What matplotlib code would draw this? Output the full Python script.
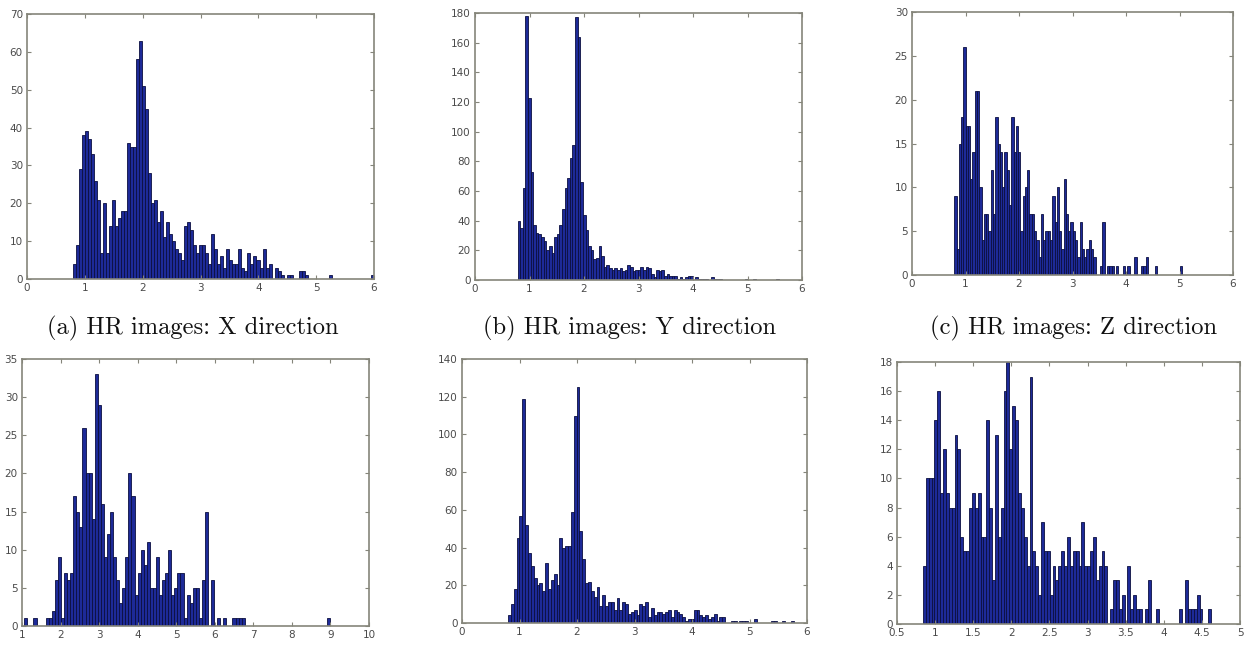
import numpy as np
import matplotlib
matplotlib.use("Agg")
import matplotlib.pyplot as plt
from matplotlib.ticker import MultipleLocator, FuncFormatter

# ---- data: histogram counts (100 bins each) and bin ranges ----
range_a = (0.79, 6.0)
counts_a = [4,9,29,38,39,37,33,26,21,7, 20,7,14,21,14,16,18,18,36,35,
            35,58,63,51,45,28,20,21,15,18, 11,15,12,10,8,7,5,14,15,13,
            9,7,9,9,7,4,12,8,4,6, 3,8,5,4,4,8,3,2,7,4,
            6,5,3,8,3,4,0,3,2,1, 0,1,1,0,0,2,2,1,0,0,
            0,0,0,0,0,1,0,0,0,0, 0,0,0,0,0,0,0,0,0,1]

range_b = (0.78, 5.58)
counts_b = [40,35,62,178,123,73,37,32,31,29, 26,20,23,18,29,31,37,48,62,69,
            82,91,177,164,66,44,34,23,20,14, 15,23,16,9,10,8,7,8,7,8,
            6,7,10,9,6,7,7,9,7,9, 8,4,2,7,6,7,3,4,3,3,
            3,1,2,1,2,3,3,0,2,1, 1,1,1,0,2,1,1,1,0,0,
            0,0,0,0,0,0,0,1,0,0, 1,0,0,0,0,0,0,0,0,1]

range_c = (0.79, 5.05)
counts_c = [9,3,15,18,26,17,17,11,14,21, 21,10,4,7,7,5,12,7,18,15,
            14,10,14,12,8,18,14,17,14,5, 9,10,12,7,7,5,4,2,7,4,
            5,5,4,9,6,10,5,3,11,7, 5,6,5,4,2,6,3,2,3,4,
            3,2,0,0,1,6,0,1,1,1, 0,1,0,0,1,0,1,0,0,2,
            0,0,1,1,2,0,0,0,1,0, 0,0,0,0,0,0,0,0,0,1]

range_d = (1.06, 9.0)
counts_d = [1,0,0,1,0,0,0,1,1,2, 6,9,1,7,6,7,17,15,13,26,
            20,20,14,33,29,16,9,12,15,9, 6,3,5,9,20,17,4,7,10,8,
            11,5,5,9,4,6,7,10,4,5, 7,7,1,4,3,5,5,1,6,15,
            0,6,0,1,0,1,0,0,1,1, 1,1,0,0,0,0,0,0,0,0,
            0,0,0,0,0,0,0,0,0,0, 0,0,0,0,0,0,0,0,0,1]

range_e = (0.80, 5.77)
counts_e = [4,10,18,45,57,119,52,37,30,24, 20,21,17,32,18,23,26,20,45,40,
            41,41,59,110,125,49,34,21,22,17, 14,19,9,15,9,11,11,7,13,7,
            11,10,5,6,7,4,10,9,11,3, 8,4,6,6,5,6,7,3,7,6,
            5,3,1,2,2,7,7,4,3,4, 2,3,5,1,3,3,0,0,1,1,
            0,1,1,1,0,0,2,0,0,0, 0,0,1,1,0,0,1,0,0,1]

range_f = (0.84, 4.62)
counts_f = [4,10,10,10,14,16,9,12,9,8, 8,13,12,6,5,5,8,9,8,9,
            6,6,14,8,3,13,6,8,16,18, 12,15,14,9,8,6,4,17,5,4,
            2,7,5,5,2,4,3,4,5,4, 6,4,5,5,4,7,4,4,5,6,
            3,4,5,4,0,1,3,3,1,2, 0,4,1,2,1,1,0,1,3,0,
            0,1,0,0,0,0,0,0,0,1, 0,3,1,1,1,2,1,0,0,1]

captions = ["(a) HR images: X direction",
            "(b) HR images: Y direction",
            "(c) HR images: Z direction"]

# ---- layout (pixels: left, right, top, bottom) ----
W, H = 1257, 646
boxes = [(27, 374, 14, 279), (475, 802, 13, 280), (912, 1233, 12, 275),
         (22, 369, 359, 626), (462, 807, 359, 623), (897, 1240, 362, 624)]
xlims = [(0, 6), (0, 6), (0, 6), (1, 10), (0, 6), (0.5, 5)]
ylims = [(0, 70), (0, 180), (0, 30), (0, 35), (0, 140), (0, 18)]
xsteps = [1, 1, 1, 1, 1, 0.5]
ysteps = [10, 20, 5, 5, 20, 2]
datasets = [(range_a, counts_a), (range_b, counts_b), (range_c, counts_c),
            (range_d, counts_d), (range_e, counts_e), (range_f, counts_f)]

frame_col = "#85857a"
face_col = "#1d2a98"
edge_col = "#0b0f40"

fig = plt.figure(figsize=(W / 100, H / 100), dpi=100)
fmt = FuncFormatter(lambda v, p: "%g" % v)

for i, ((lo, hi), counts) in enumerate(datasets):
    l, r, t, b = boxes[i]
    ax = fig.add_axes([l / W, 1 - b / H, (r - l) / W, (b - t) / H])
    edges = np.linspace(lo, hi, len(counts) + 1)
    ax.bar(edges[:-1], counts, width=np.diff(edges), align="edge",
           color=face_col, edgecolor=edge_col, linewidth=0.6)
    ax.set_xlim(*xlims[i])
    ax.set_ylim(*ylims[i])
    ax.xaxis.set_major_locator(MultipleLocator(xsteps[i]))
    ax.yaxis.set_major_locator(MultipleLocator(ysteps[i]))
    ax.xaxis.set_major_formatter(fmt)
    ax.yaxis.set_major_formatter(fmt)
    ax.tick_params(direction="in", length=3, width=0.8, top=True, right=True,
                   colors=frame_col, labelcolor="#4a4a4a", labelsize=7.5, pad=3)
    for s in ax.spines.values():
        s.set_color(frame_col)
        s.set_linewidth(1.2)

centers = [193, 630, 1074]
for cx, txt in zip(centers, captions):
    fig.text(cx / W, 1 - 328 / H, txt, ha="center", va="center",
             family="cmr10", fontsize=17.7, color="#111111")

fig.savefig("out.png", dpi=100)
